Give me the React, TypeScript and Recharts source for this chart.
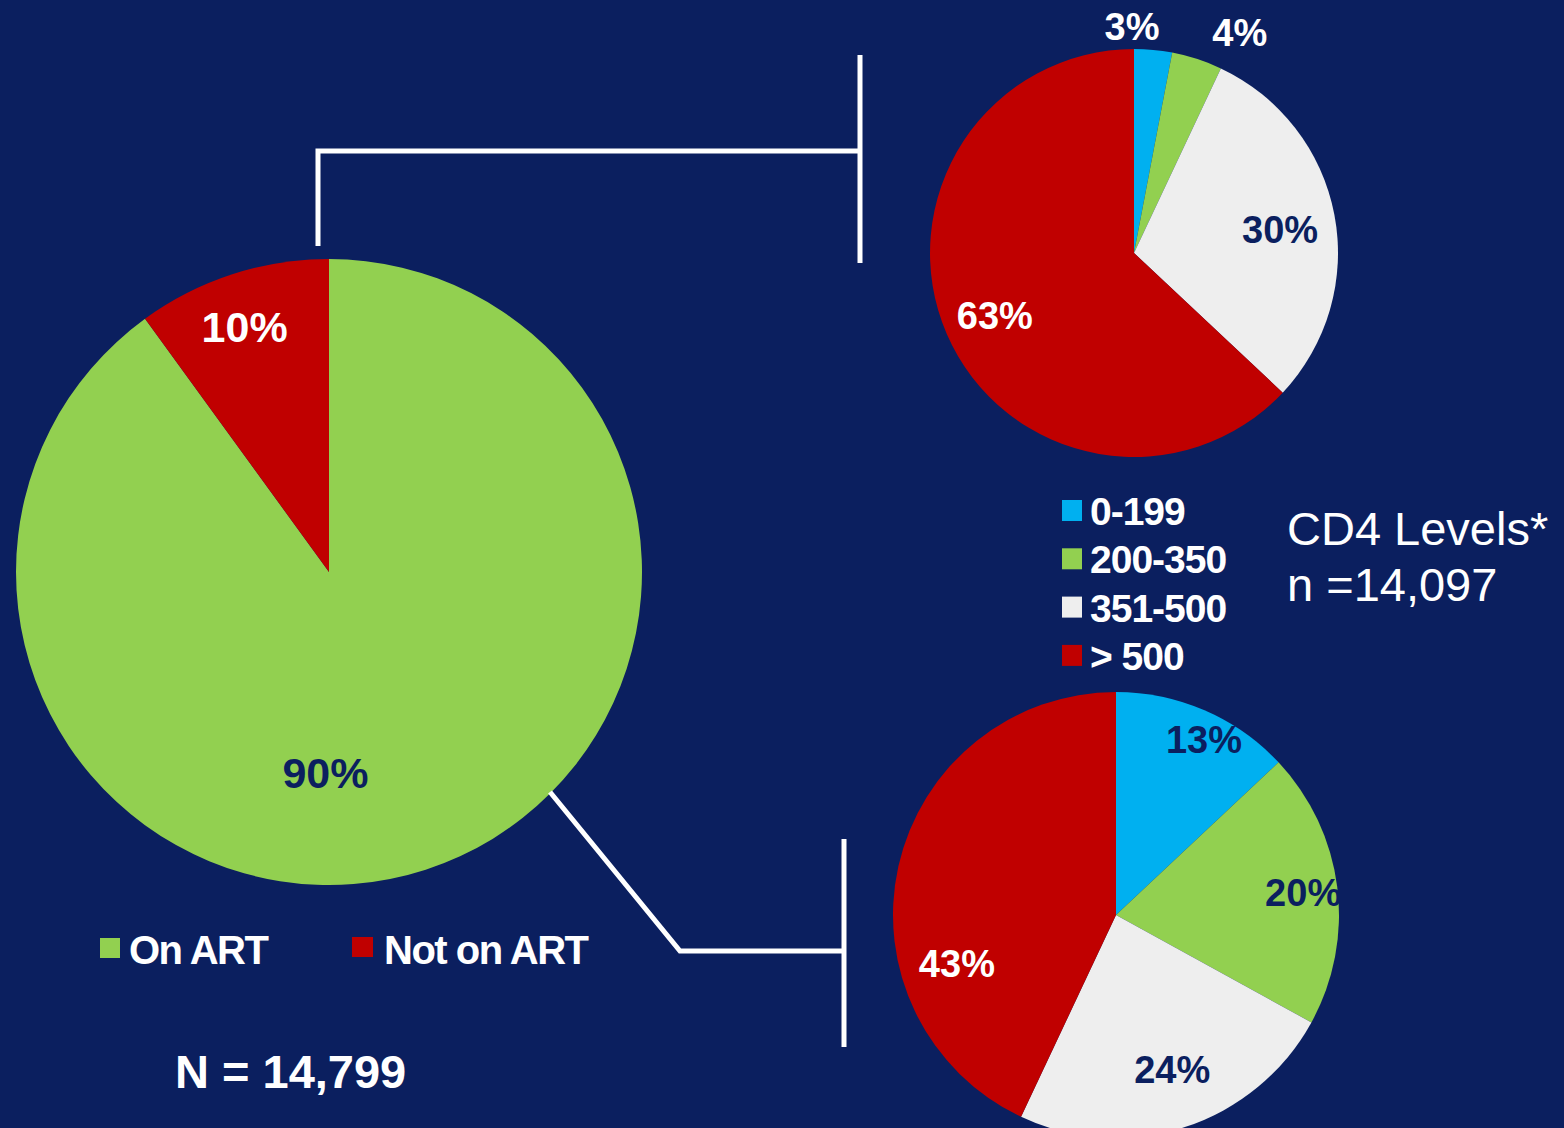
import React from "react";
import { PieChart, Pie, Cell } from "recharts";

const BG = "#0b1f5f";
const NAVY = "#0b1f5f";
const FONT = "'Liberation Sans', Arial, sans-serif";

// all patients: on / not on ART
const artCategories = ["On ART", "Not on ART"];
const artValues = [90, 10];
const artColors = ["#92d050", "#c00000"];

// CD4 levels by group
const cd4Categories = ["0-199", "200-350", "351-500", "> 500"];
const cd4Colors = ["#00b0f0", "#92d050", "#eeeeee", "#c00000"];
const notOnArtCd4 = [3, 4, 30, 63];
const onArtCd4 = [13, 20, 24, 43];

// label placement: [angle in degrees, fraction of radius]
const artLabelPos = [[-91, 0.643], [109, 0.828]];
const topLabelPos = [[90.5, 1.108], [64.3, 1.196], [9, 0.725], [204.4, 0.749]];
const bottomLabelPos = [[63.3, 0.878], [6.7, 0.845], [-70.1, 0.74], [197, 0.746]];

const artLabelColors = [NAVY, "#ffffff"];
const topLabelColors = ["#ffffff", "#ffffff", NAVY, "#ffffff"];
const bottomLabelColors = [NAVY, NAVY, NAVY, "#ffffff"];

const artData = artCategories.map((name, i) => ({ name, value: artValues[i] }));
const topData = cd4Categories.map((name, i) => ({ name, value: notOnArtCd4[i] }));
const bottomData = cd4Categories.map((name, i) => ({ name, value: onArtCd4[i] }));

const makeLabel =
  (pos: number[][], colors: string[], size: number) => (props: any) => {
    const { cx, cy, outerRadius, index, value } = props;
    const [a, f] = pos[index];
    const rad = (a * Math.PI) / 180;
    const x = cx + outerRadius * f * Math.cos(rad);
    const y = cy - outerRadius * f * Math.sin(rad);
    return (
      <text
        x={x}
        y={y}
        fill={colors[index]}
        textAnchor="middle"
        dominantBaseline="central"
        style={{ fontFamily: FONT, fontWeight: 700, fontSize: size }}
      >
        {value}%
      </text>
    );
  };

export default function App() {
  const boldText = { fontFamily: FONT, fontWeight: 700 };
  return (
    <div
      style={{
        position: "absolute",
        left: 0,
        top: 0,
        width: 1564,
        height: 1128,
        background: BG,
        overflow: "hidden",
      }}
    >
      <PieChart width={1564} height={1128} margin={{ top: 0, right: 0, bottom: 0, left: 0 }}>
        <Pie
          data={artData}
          dataKey="value"
          cx={329}
          cy={572}
          outerRadius={313}
          startAngle={90}
          endAngle={-270}
          stroke="none"
          labelLine={false}
          label={makeLabel(artLabelPos, artLabelColors, 43)}
          isAnimationActive={false}
        >
          {artData.map((d, i) => (
            <Cell key={d.name} fill={artColors[i]} />
          ))}
        </Pie>
        <Pie
          data={topData}
          dataKey="value"
          cx={1134}
          cy={253}
          outerRadius={204}
          startAngle={90}
          endAngle={-270}
          stroke="none"
          labelLine={false}
          label={makeLabel(topLabelPos, topLabelColors, 38)}
          isAnimationActive={false}
        >
          {topData.map((d, i) => (
            <Cell key={d.name} fill={cd4Colors[i]} />
          ))}
        </Pie>
        <Pie
          data={bottomData}
          dataKey="value"
          cx={1116}
          cy={915}
          outerRadius={223}
          startAngle={90}
          endAngle={-270}
          stroke="none"
          labelLine={false}
          label={makeLabel(bottomLabelPos, bottomLabelColors, 38)}
          isAnimationActive={false}
        >
          {bottomData.map((d, i) => (
            <Cell key={d.name} fill={cd4Colors[i]} />
          ))}
        </Pie>
      </PieChart>

      <svg
        width={1564}
        height={1128}
        style={{ position: "absolute", left: 0, top: 0, pointerEvents: "none" }}
      >
        {/* connector lines */}
        <g stroke="#ffffff" strokeWidth={5} fill="none">
          <polyline points="318,246 318,151 860,151" />
          <line x1={860} y1={55} x2={860} y2={263} />
          <polyline points="550,792 680,951 844,951" />
          <line x1={844} y1={839} x2={844} y2={1047} />
        </g>

        {/* ART legend */}
        <rect x={100} y={938} width={20} height={20} fill={artColors[0]} />
        <text x={129} y={964} fill="#fff" style={{ ...boldText, fontSize: 40, letterSpacing: -1.5 }}>
          {artCategories[0]}
        </text>
        <rect x={352} y={937} width={21} height={20} fill={artColors[1]} />
        <text x={384} y={964} fill="#fff" style={{ ...boldText, fontSize: 40, letterSpacing: -1.5 }}>
          {artCategories[1]}
        </text>

        {/* CD4 legend */}
        {cd4Categories.map((c, i) => (
          <g key={c}>
            <rect x={1062} y={500 + i * 48.3} width={20} height={21} fill={cd4Colors[i]} />
            <text
              x={1090}
              y={525 + i * 48.3}
              fill="#fff"
              style={{ ...boldText, fontSize: 39, letterSpacing: -1 }}
            >
              {c}
            </text>
          </g>
        ))}

        <text x={1287} y={545} fill="#fff" style={{ fontFamily: FONT, fontSize: 47 }}>
          CD4 Levels*
        </text>
        <text x={1287} y={601} fill="#fff" style={{ fontFamily: FONT, fontSize: 47 }}>
          n =14,097
        </text>

        <text x={175} y={1088} fill="#fff" style={{ ...boldText, fontSize: 47 }}>
          N = 14,799
        </text>
      </svg>
    </div>
  );
}
